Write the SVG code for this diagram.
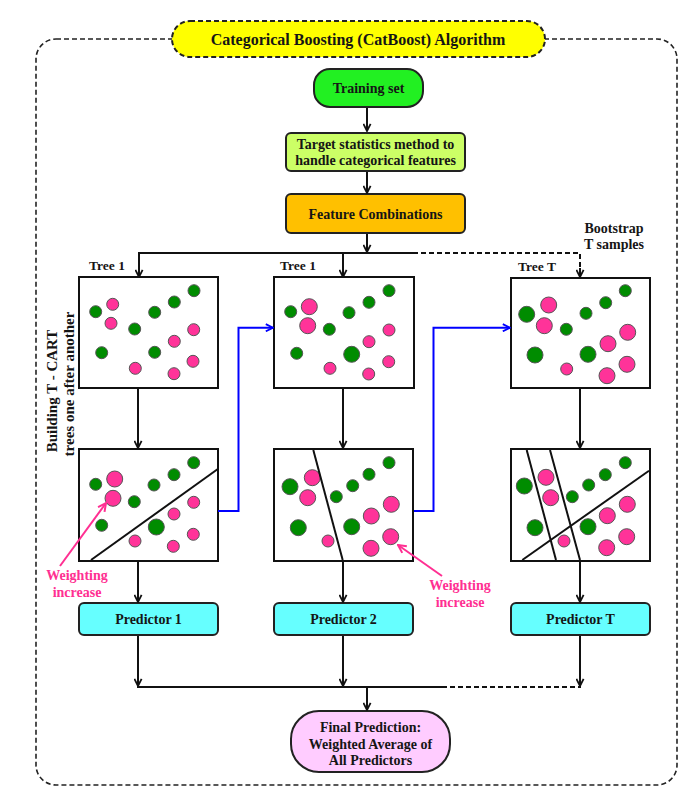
<svg xmlns="http://www.w3.org/2000/svg" width="689" height="802" viewBox="0 0 689 802">
<defs>
<style>
text{font-family:"Liberation Serif","Times New Roman",serif;font-weight:bold;fill:#151515;text-anchor:middle}
.lbl{font-size:14px}
.tl{font-size:13.5px}
.pk{fill:#ff2f92;font-size:14px}
.box{fill:#fff;stroke:#111;stroke-width:2}
.ln{fill:none;stroke:#111;stroke-width:2}
.dl{fill:none;stroke:#111;stroke-width:2;stroke-dasharray:5,3}
.bl{fill:none;stroke:#0000ff;stroke-width:2}
.pl{fill:none;stroke:#ff2f92;stroke-width:2}
.g{fill:#008c00;stroke:#555;stroke-width:1}
.p{fill:#ff3399;stroke:#555;stroke-width:1}
.node{stroke:#222;stroke-width:2}
</style>
<marker id="ah" viewBox="0 0 10 10" refX="9" refY="5" markerWidth="9" markerHeight="9" markerUnits="userSpaceOnUse" orient="auto"><path d="M1,1 L9,5 L1,9" fill="none" stroke="#111" stroke-width="2"/></marker>
<marker id="ahb" viewBox="0 0 10 10" refX="9" refY="5" markerWidth="9" markerHeight="9" markerUnits="userSpaceOnUse" orient="auto"><path d="M1,1 L9,5 L1,9" fill="none" stroke="#0000ff" stroke-width="2"/></marker>
<marker id="ahp" viewBox="0 0 10 10" refX="9" refY="5" markerWidth="10" markerHeight="10" markerUnits="userSpaceOnUse" orient="auto"><path d="M1,1 L9,5 L1,9" fill="none" stroke="#ff2f92" stroke-width="2"/></marker>
</defs>
<rect width="689" height="802" fill="#fff"/>
<rect id="frame" x="36" y="39" width="641" height="746" rx="20" fill="none" stroke="#222" stroke-width="1.6" stroke-dasharray="5,3"/>
<g id="title"><rect x="172" y="21" width="373" height="36" rx="18" fill="#ffff00" stroke="#222" stroke-width="2" stroke-dasharray="5,3"/><text x="358" y="45" style="font-size:16px">Categorical Boosting (CatBoost) Algorithm</text></g>

<g id="training"><rect class="node" x="314" y="69" width="109" height="38" rx="16" fill="#22f022"/><text class="lbl" x="368.5" y="93">Training set</text></g>
<g id="target"><rect class="node" x="286" y="133" width="179" height="38" rx="5" fill="#ccff66"/><text class="lbl" x="375.5" y="149">Target statistics method to</text><text class="lbl" x="375.5" y="165">handle categorical features</text></g>
<g id="featcomb"><rect class="node" x="286" y="194" width="179" height="39" rx="5" fill="#ffc000"/><text class="lbl" x="375.5" y="219">Feature Combinations</text></g>

<g id="labels">
<text class="tl" x="107" y="270">Tree 1</text>
<text class="tl" x="298" y="270">Tree 1</text>
<text class="tl" x="537" y="271">Tree T</text>
<text class="lbl" x="614" y="233">Bootstrap</text>
<text class="lbl" x="614" y="249">T samples</text>
<text transform="translate(57,391) rotate(-90)" style="font-size:15px">Building T - CART</text>
<text transform="translate(73.5,384) rotate(-90)" style="font-size:15px">trees one after another</text>
<text class="pk" x="77" y="580">Weighting</text>
<text class="pk" x="77" y="597">increase</text>
<text class="pk" x="460" y="590">Weighting</text>
<text class="pk" x="460" y="607">increase</text>
</g>

<g id="tree1">
<rect class="box" x="79" y="277" width="139" height="111"/>
<circle class="g" cx="95.7" cy="311.7" r="6"/><circle class="p" cx="112.7" cy="304.3" r="6"/><circle class="p" cx="111" cy="323.3" r="6"/><circle class="g" cx="134.7" cy="329" r="6"/><circle class="g" cx="154.7" cy="312.3" r="6"/><circle class="g" cx="174.3" cy="302" r="6"/><circle class="g" cx="194" cy="290.7" r="6"/><circle class="p" cx="193.7" cy="329.7" r="6"/><circle class="p" cx="174.3" cy="341.3" r="6"/><circle class="g" cx="101.7" cy="352.7" r="6"/><circle class="g" cx="154.7" cy="352.3" r="6"/><circle class="p" cx="135.3" cy="368.3" r="6"/><circle class="p" cx="174" cy="373.7" r="6"/><circle class="p" cx="193" cy="361.3" r="6"/>
</g>
<g id="tree2">
<rect class="box" x="274" y="277" width="140" height="111"/>
<circle class="g" cx="290.7" cy="311.7" r="6"/><circle class="p" cx="309.3" cy="306.7" r="8"/><circle class="p" cx="307.7" cy="325.7" r="8"/><circle class="g" cx="329.3" cy="329.3" r="6"/><circle class="g" cx="349" cy="312.7" r="6"/><circle class="g" cx="369" cy="302.3" r="6"/><circle class="g" cx="389" cy="290.7" r="6"/><circle class="p" cx="389" cy="330" r="6"/><circle class="p" cx="369" cy="341.7" r="6"/><circle class="g" cx="296.7" cy="353.3" r="6"/><circle class="g" cx="351.7" cy="354.3" r="8"/><circle class="p" cx="330" cy="368.3" r="6"/><circle class="p" cx="368.7" cy="374" r="6"/><circle class="p" cx="388.7" cy="361.7" r="6"/>
</g>
<g id="treeT">
<rect class="box" x="511" y="278" width="139" height="110"/>
<circle class="g" cx="526.7" cy="314.3" r="8"/><circle class="p" cx="548.7" cy="305" r="8"/><circle class="p" cx="544.3" cy="325.7" r="8"/><circle class="g" cx="566.3" cy="329.3" r="6"/><circle class="g" cx="586" cy="313.3" r="6"/><circle class="g" cx="605.7" cy="302.7" r="6"/><circle class="g" cx="625.3" cy="290.7" r="6"/><circle class="p" cx="627.7" cy="332.3" r="8"/><circle class="p" cx="608" cy="343.7" r="8"/><circle class="g" cx="535" cy="355" r="8"/><circle class="g" cx="588" cy="354.3" r="8"/><circle class="p" cx="566.7" cy="369" r="6"/><circle class="p" cx="607" cy="375.7" r="8"/><circle class="p" cx="627" cy="364.3" r="8"/>
</g>

<g id="split1">
<rect class="box" x="79" y="449" width="139" height="112"/>
<circle class="g" cx="95.7" cy="484.3" r="6"/><circle class="p" cx="114.7" cy="479" r="8"/><circle class="p" cx="113" cy="498.3" r="8"/><circle class="g" cx="134.3" cy="501.7" r="6"/><circle class="g" cx="154" cy="485" r="6"/><circle class="g" cx="174" cy="474.7" r="6"/><circle class="g" cx="193.7" cy="462.7" r="6"/><circle class="p" cx="193.7" cy="502.3" r="6"/><circle class="p" cx="174" cy="514" r="6"/><circle class="g" cx="101.7" cy="525.3" r="6"/><circle class="g" cx="156.3" cy="527" r="8"/><circle class="p" cx="135" cy="541" r="6"/><circle class="p" cx="173.3" cy="546.3" r="6"/><circle class="p" cx="193.3" cy="534.3" r="6"/>
<line class="ln" x1="91" y1="560" x2="217.5" y2="469.3"/>
</g>
<g id="split2">
<rect class="box" x="274" y="449" width="139" height="112"/>
<circle class="g" cx="290" cy="486.7" r="8"/><circle class="p" cx="312.3" cy="477.7" r="8"/><circle class="p" cx="307.7" cy="497.7" r="8"/><circle class="g" cx="336.3" cy="496.7" r="6"/><circle class="g" cx="352.7" cy="485.7" r="6"/><circle class="g" cx="369" cy="474.3" r="6"/><circle class="g" cx="389" cy="462.7" r="6"/><circle class="p" cx="391.3" cy="504.3" r="8"/><circle class="p" cx="371.3" cy="516" r="8"/><circle class="g" cx="298.3" cy="527.7" r="8"/><circle class="g" cx="351.7" cy="526.7" r="8"/><circle class="p" cx="328" cy="541" r="6"/><circle class="p" cx="371" cy="548.3" r="8"/><circle class="p" cx="390.7" cy="536.7" r="8"/>
<line class="ln" x1="313.3" y1="450" x2="342.7" y2="560"/>
</g>
<g id="splitT">
<rect class="box" x="511" y="449" width="139" height="112"/>
<circle class="g" cx="524.3" cy="486" r="8"/><circle class="p" cx="546" cy="477.3" r="8"/><circle class="p" cx="550.7" cy="497.7" r="8"/><circle class="g" cx="572.3" cy="496.7" r="6"/><circle class="g" cx="588.7" cy="485" r="6"/><circle class="g" cx="605.3" cy="474.7" r="6"/><circle class="g" cx="625.3" cy="462.7" r="6"/><circle class="p" cx="627.3" cy="504.3" r="8"/><circle class="p" cx="607.3" cy="515.7" r="8"/><circle class="g" cx="535" cy="527.7" r="8"/><circle class="g" cx="588" cy="526.7" r="8"/><circle class="p" cx="564" cy="541" r="6"/><circle class="p" cx="606.7" cy="547.7" r="8"/><circle class="p" cx="626.7" cy="536.7" r="8"/>
<line class="ln" x1="526.7" y1="450" x2="556" y2="560"/>
<line class="ln" x1="550" y1="450" x2="580" y2="560"/>
<line class="ln" x1="522.3" y1="560" x2="649" y2="470.7"/>
</g>

<g id="pred1"><rect class="node" x="79" y="603" width="139" height="32" rx="5" fill="#66ffff"/><text class="lbl" x="148.5" y="624">Predictor 1</text></g>
<g id="pred2"><rect class="node" x="274" y="603" width="139" height="32" rx="5" fill="#66ffff"/><text class="lbl" x="343.5" y="624">Predictor 2</text></g>
<g id="predT"><rect class="node" x="511" y="603" width="139" height="32" rx="5" fill="#66ffff"/><text class="lbl" x="580.5" y="624">Predictor T</text></g>
<g id="final"><rect class="node" x="291" y="711" width="159" height="61" rx="28" fill="#ffccff"/><text class="lbl" x="370.5" y="731.5">Final Prediction:</text><text class="lbl" x="370.5" y="748.5">Weighted Average of</text><text class="lbl" x="370.5" y="764.5">All Predictors</text></g>

<g id="connectors">
<path class="ln" d="M367,108 V131" marker-end="url(#ah)"/>
<path class="ln" d="M367,172 V193" marker-end="url(#ah)"/>
<path class="ln" d="M367,234 V252" marker-end="url(#ah)"/>
<path class="ln" d="M413,253 H139 V277" marker-end="url(#ah)"/>
<path class="ln" d="M343,253 V277" marker-end="url(#ah)"/>
<path class="dl" d="M413,253 H580 V270"/>
<path class="ln" d="M580,268 V277" marker-end="url(#ah)"/>
<path class="ln" d="M138,389 V448" marker-end="url(#ah)"/>
<path class="ln" d="M343,389 V448" marker-end="url(#ah)"/>
<path class="ln" d="M580,389 V448" marker-end="url(#ah)"/>
<path class="ln" d="M138,562 V602" marker-end="url(#ah)"/>
<path class="ln" d="M343,560 V602" marker-end="url(#ah)"/>
<path class="ln" d="M580,561 V602" marker-end="url(#ah)"/>
<path class="bl" d="M218,511 H238.5 V327.7 H273" marker-end="url(#ahb)"/>
<path class="bl" d="M414,511 H433.5 V327.7 H510" marker-end="url(#ahb)"/>
<path class="ln" d="M138,636 V686" marker-end="url(#ah)"/>
<path class="ln" d="M343,636 V686" marker-end="url(#ah)"/>
<path class="ln" d="M580,636 V686" marker-end="url(#ah)"/>
<path class="ln" d="M137,687 H442"/>
<path class="dl" d="M442,687 H581"/>
<path class="ln" d="M367,687 V710" marker-end="url(#ah)"/>
<path class="pl" d="M60,566 L106,503" marker-end="url(#ahp)"/>
<path class="pl" d="M442,576 L398,545" marker-end="url(#ahp)"/>
</g>
</svg>
